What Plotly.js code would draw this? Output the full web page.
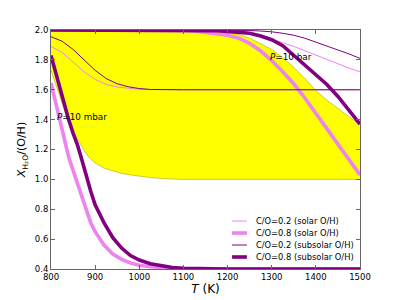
<!DOCTYPE html>
<html>
<head>
<meta charset="utf-8">
<script src="https://cdn.plot.ly/plotly-3.0.1.min.js"></script>
<style>html,body{margin:0;padding:0;background:#fff;}#chart{width:400px;height:300px;}</style>
</head>
<body>
<div id="chart"></div>
<script>
// ---- data ----
// Low-pressure (P = 10 mbar) curves, thin
const T_thinLow = [800, 825, 850, 875, 900, 925, 950, 975, 1000, 1025, 1050, 1100, 1500];
const solar02_low    = [1.89, 1.85, 1.785, 1.72, 1.67, 1.635, 1.618, 1.608, 1.603, 1.601, 1.60, 1.60, 1.60];
const subsolar02_low = [1.955, 1.925, 1.87, 1.80, 1.73, 1.675, 1.64, 1.62, 1.608, 1.602, 1.60, 1.60, 1.60];

// Low-pressure (P = 10 mbar) curves, thick
const T_thickLow = [800, 810, 820, 830, 840, 850, 860, 870, 880, 890, 900, 920, 940, 960, 980, 1000, 1025, 1050, 1075, 1100, 1150, 1200, 1300, 1400, 1500];
const solar08_low    = [1.645, 1.52, 1.39, 1.26, 1.15, 1.06, 0.97, 0.875, 0.785, 0.71, 0.65, 0.56, 0.50, 0.465, 0.44, 0.425, 0.415, 0.408, 0.404, 0.402, 0.40, 0.40, 0.40, 0.40, 0.40];
const subsolar08_low = [1.83, 1.72, 1.61, 1.50, 1.40, 1.31, 1.23, 1.13, 1.02, 0.92, 0.83, 0.71, 0.61, 0.54, 0.49, 0.46, 0.435, 0.42, 0.41, 0.405, 0.401, 0.40, 0.40, 0.40, 0.40];

// High-pressure (P = 10 bar) curves
const T_high = [800, 1000, 1050, 1100, 1125, 1150, 1175, 1200, 1225, 1250, 1275, 1300, 1325, 1350, 1375, 1400, 1425, 1450, 1475, 1500];
const solar02_high    = [2.0, 2.0, 2.0, 2.0, 2.0, 2.0, 1.998, 1.995, 1.988, 1.978, 1.962, 1.94, 1.915, 1.89, 1.86, 1.83, 1.80, 1.775, 1.745, 1.72];
const subsolar02_high = [2.0, 2.0, 2.0, 2.0, 2.0, 2.0, 2.0, 2.0, 1.999, 1.997, 1.993, 1.988, 1.978, 1.965, 1.945, 1.92, 1.895, 1.87, 1.84, 1.81];
const solar08_high    = [2.0, 2.0, 2.0, 1.997, 1.993, 1.985, 1.977, 1.965, 1.945, 1.91, 1.86, 1.795, 1.72, 1.64, 1.545, 1.445, 1.34, 1.235, 1.13, 1.03];
const subsolar08_high = [2.0, 2.0, 2.0, 2.0, 2.0, 1.998, 1.995, 1.99, 1.985, 1.978, 1.96, 1.935, 1.895, 1.83, 1.77, 1.705, 1.635, 1.555, 1.465, 1.37];

// Yellow band boundaries
const T_bandUpper = [800, 1150, 1175, 1200, 1225, 1250, 1275, 1300, 1325, 1350, 1375, 1400, 1425, 1450, 1475, 1500];
const band_upper  = [2.0, 2.0, 1.995, 1.985, 1.97, 1.945, 1.91, 1.87, 1.815, 1.75, 1.675, 1.595, 1.53, 1.475, 1.42, 1.365];
const T_bandLower = [800, 810, 820, 830, 840, 850, 860, 870, 880, 890, 900, 920, 940, 960, 980, 1000, 1025, 1050, 1075, 1100, 1500];
const band_lower  = [1.73, 1.64, 1.55, 1.46, 1.38, 1.32, 1.27, 1.22, 1.17, 1.135, 1.11, 1.075, 1.055, 1.04, 1.03, 1.02, 1.012, 1.006, 1.003, 1.0, 1.0];

const legendNames = ['C/O=0.2 (solar O/H)', 'C/O=0.8 (solar O/H)', 'C/O=0.2 (subsolar O/H)', 'C/O=0.8 (subsolar O/H)'];
const xTicks = [800, 900, 1000, 1100, 1200, 1300, 1400, 1500];
const yTicks = [0.4, 0.6, 0.8, 1.0, 1.2, 1.4, 1.6, 1.8, 2.0];

// ---- styles ----
const PINK = '#ee82ee', PURPLE = '#800080';
const THIN = 1, THICK = 3.6;
const seriesStyle = [
  {color: PINK, width: THIN},
  {color: PINK, width: THICK},
  {color: PURPLE, width: THIN},
  {color: PURPLE, width: THICK}
];
const seriesData = [
  [[T_thinLow, solar02_low], [T_high, solar02_high]],
  [[T_thickLow, solar08_low], [T_high, solar08_high]],
  [[T_thinLow, subsolar02_low], [T_high, subsolar02_high]],
  [[T_thickLow, subsolar08_low], [T_high, subsolar08_high]]
];

const edge = {color: 'rgb(190,190,40)', width: 0.8};
const traces = [
  {x: T_bandUpper, y: band_upper, mode: 'lines', line: edge, showlegend: false, hoverinfo: 'skip'},
  {x: T_bandLower, y: band_lower, mode: 'lines', line: edge, fill: 'tonexty', fillcolor: '#ffff00', showlegend: false, hoverinfo: 'skip'}
];
seriesData.forEach((pair, i) => {
  pair.forEach(([xs, ys]) => {
    traces.push({x: xs, y: ys, mode: 'lines', name: legendNames[i],
      line: {color: seriesStyle[i].color, width: seriesStyle[i].width}, showlegend: false});
  });
});

// manual compact legend (matplotlib-like)
const shapes = [], annotations = [];
legendNames.forEach((nm, i) => {
  const yp = 0.2008 - i * 0.0502;
  shapes.push({type: 'line', xref: 'paper', yref: 'paper', x0: 0.586, x1: 0.634, y0: yp, y1: yp,
    line: {color: seriesStyle[i].color, width: seriesStyle[i].width}});
  annotations.push({xref: 'paper', yref: 'paper', x: 0.658, y: yp, xanchor: 'left', yanchor: 'middle',
    text: nm, showarrow: false, font: {family: 'DejaVu Sans', size: 8.3, color: '#000'}});
});
annotations.push({x: 870, y: 1.418, xref: 'x', yref: 'y', text: '<i>P</i>=10 mbar', showarrow: false,
  font: {family: 'DejaVu Sans', size: 8.8, color: '#000'}});
annotations.push({x: 1344, y: 1.82, xref: 'x', yref: 'y', text: '<i>P</i>=10 bar', showarrow: false,
  font: {family: 'DejaVu Sans', size: 8.8, color: '#000'}});

const axisCommon = {
  showgrid: false, zeroline: false, showline: true, linecolor: '#666', linewidth: 1,
  mirror: 'ticks', ticks: 'inside', ticklen: 4, tickcolor: '#666',
  tickfont: {family: 'DejaVu Sans', size: 8.5, color: '#000'}
};

const layout = {
  width: 400, height: 300,
  margin: {l: 51, r: 40, t: 30, b: 31, pad: 0},
  paper_bgcolor: '#fff', plot_bgcolor: '#fff',
  showlegend: false,
  xaxis: Object.assign({}, axisCommon, {
    range: [800, 1500], tickvals: xTicks, ticktext: xTicks.map(String),
    title: {text: '<i>T</i> (K)', font: {family: 'DejaVu Sans', size: 12, color: '#000'}, standoff: 2}
  }),
  yaxis: Object.assign({}, axisCommon, {
    range: [0.4, 2.0], tickvals: yTicks, ticktext: yTicks.map(v => v.toFixed(1)),
    title: {text: '<i>X</i><sub>H₂O</sub>/(O/H)', font: {family: 'DejaVu Sans', size: 11, color: '#000'}, standoff: 6}
  }),
  shapes: shapes,
  annotations: annotations
};

Plotly.newPlot('chart', traces, layout, {staticPlot: true, displayModeBar: false});
</script>
</body>
</html>
